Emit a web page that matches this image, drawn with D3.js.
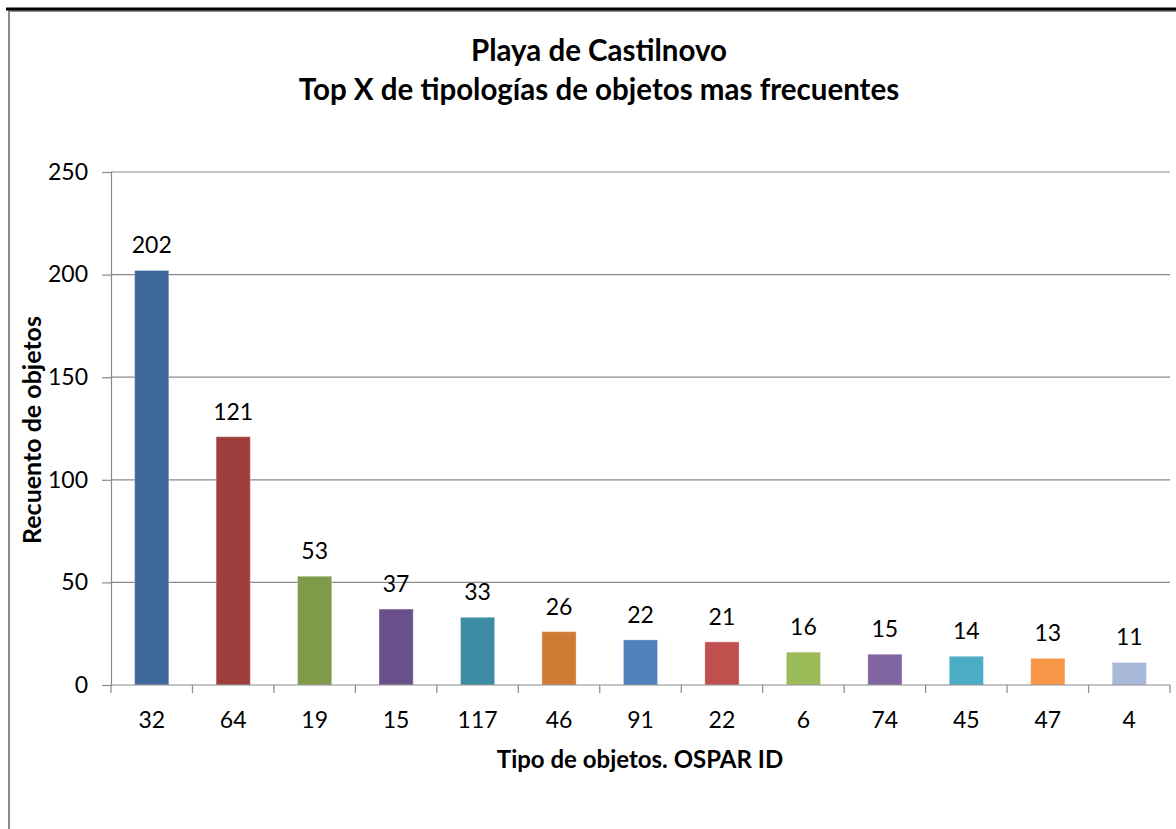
<!DOCTYPE html>
<html>
<head>
<meta charset="utf-8">
<script src="https://cdn.jsdelivr.net/npm/d3@7"></script>
<style>
  html, body { margin: 0; padding: 0; background: #fff; }
  svg { display: block; }
  text { font-family: Lato, "Open Sans", sans-serif; fill: #000; }
</style>
</head>
<body>
<svg id="chart" width="1176" height="829"></svg>
<script>
const categories = ["32", "64", "19", "15", "117", "46", "91", "22", "6", "74", "45", "47", "4"];
const counts = [202, 121, 53, 37, 33, 26, 22, 21, 16, 15, 14, 13, 11];
const barColors = ["#3F689A", "#9E3F3D", "#7F9A48", "#69508A", "#3C8CA3", "#D07B35",
                   "#4F81BD", "#C0504D", "#9BBB59", "#8064A2", "#4BACC6", "#F79646", "#A7B8D8"];
const yTicks = [0, 50, 100, 150, 200, 250];
const titleLines = ["Playa de Castilnovo", "Top X de tipologías de objetos mas frecuentes"];
const xTitle = "Tipo de objetos. OSPAR ID";
const yTitle = "Recuento de objetos";

const svg = d3.select("#chart");
const W = 1176, H = 829;
const plot = { left: 111, right: 1170, top: 172, bottom: 685 };

// frame
svg.append("rect").attr("x", 9).attr("y", 11).attr("width", W).attr("height", H)
  .attr("fill", "#fff").attr("stroke", "#8c8c8c").attr("stroke-width", 2);
svg.append("line").attr("x1", 6).attr("x2", W).attr("y1", 9).attr("y2", 9)
  .attr("stroke", "#000").attr("stroke-width", 3);

const x = d3.scaleBand().domain(categories).range([plot.left, plot.right])
  .paddingInner(0.58).paddingOuter(0.29);
const y = d3.scaleLinear().domain([0, 250]).range([plot.bottom, plot.top]);

// gridlines
svg.append("g").selectAll("line").data(yTicks.filter(d => d > 0)).join("line")
  .attr("x1", plot.left).attr("x2", plot.right)
  .attr("y1", d => y(d)).attr("y2", d => y(d))
  .attr("stroke", "#8a8a8a").attr("stroke-width", 1.2);

// y axis
const yAxis = svg.append("g").attr("transform", `translate(${plot.left},0)`)
  .call(d3.axisLeft(y).tickValues(yTicks).tickSize(9).tickPadding(14));
yAxis.select(".domain").attr("stroke", "#8a8a8a").attr("stroke-width", 1.2);
yAxis.selectAll(".tick line").attr("stroke", "#8a8a8a").attr("stroke-width", 1.2);
yAxis.selectAll("text").attr("font-size", 23).attr("font-family", "Lato").attr("fill", "#000");

// bars
svg.append("g").selectAll("rect").data(counts).join("rect")
  .attr("x", (d, i) => x(categories[i]))
  .attr("width", x.bandwidth())
  .attr("y", d => y(d))
  .attr("height", d => y(0) - y(d))
  .attr("fill", (d, i) => barColors[i])
  .attr("stroke", "rgba(255,255,255,0.35)").attr("stroke-width", 1);

// x axis
const xAxisG = svg.append("g").attr("transform", `translate(0,${plot.bottom})`);
xAxisG.append("line").attr("x1", plot.left).attr("x2", plot.right).attr("y1", 0).attr("y2", 0)
  .attr("stroke", "#8a8a8a").attr("stroke-width", 1.2);
const step = x.step();
const boundaries = categories.map((c, i) => x(c) - x.paddingInner() * step / 2).concat([plot.right]);
xAxisG.selectAll("line.tk").data(boundaries).join("line").attr("class", "tk")
  .attr("x1", d => d).attr("x2", d => d).attr("y1", 0).attr("y2", 8)
  .attr("stroke", "#8a8a8a").attr("stroke-width", 1.2);
xAxisG.selectAll("text").data(categories).join("text")
  .attr("x", d => x(d) + x.bandwidth() / 2).attr("y", 43)
  .attr("text-anchor", "middle").attr("font-size", 23).text(d => d);

// value labels
svg.append("g").selectAll("text").data(counts).join("text")
  .attr("x", (d, i) => x(categories[i]) + x.bandwidth() / 2)
  .attr("y", d => y(d) - 17)
  .attr("text-anchor", "middle").attr("font-size", 23).text(d => d);

// titles
svg.append("text").attr("x", 599).attr("y", 61).attr("text-anchor", "middle")
  .attr("font-size", 29.5).attr("font-weight", "bold").text(titleLines[0]);
svg.append("text").attr("x", 599).attr("y", 100).attr("text-anchor", "middle")
  .attr("font-size", 29.5).attr("font-weight", "bold").text(titleLines[1]);

svg.append("text").attr("x", 640).attr("y", 768).attr("text-anchor", "middle")
  .attr("font-size", 24).attr("font-weight", "bold").text(xTitle);

svg.append("text").attr("transform", "translate(41,430) rotate(-90)")
  .attr("text-anchor", "middle")
  .attr("font-size", 25).attr("font-weight", "bold").text(yTitle);
</script>
</body>
</html>
